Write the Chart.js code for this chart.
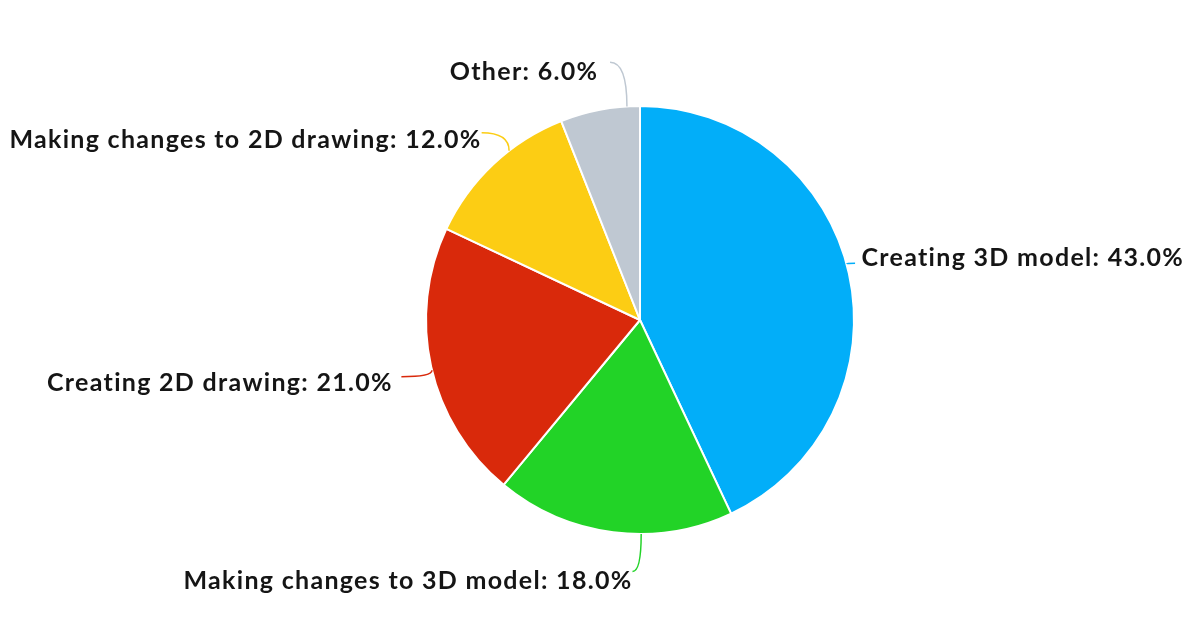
<!DOCTYPE html>
<html>
<head>
<meta charset="utf-8">
<script src="https://cdn.jsdelivr.net/npm/chart.js@4/dist/chart.umd.min.js"></script>
<style>
  html, body { margin: 0; padding: 0; background: #fff; }
  #wrap { width: 1200px; height: 630px; position: relative; }
</style>
</head>
<body>
<div id="wrap"><canvas id="c" width="1200" height="630"></canvas></div>
<script>
// ---- data ----
const categories = [
  "Creating 3D model",
  "Making changes to 3D model",
  "Creating 2D drawing",
  "Making changes to 2D drawing",
  "Other"
];
const shares = [43.0, 18.0, 21.0, 12.0, 6.0];
const sliceColors = ["#02AEF9", "#22D327", "#D9290B", "#FCCD14", "#BFC8D2"];

// ---- label layout (styling, not data) ----
// where the connector touches the slice: fraction of the slice's angular span
const touchFraction = [0.483, 0.384, 0.487, 0.627, 0.838];
// label anchor relative to pie centre, in units of the outer radius
const labelDX = [1.035, -0.035, -1.155, -0.74, -0.195];
const labelDY = [-0.29, 1.22, 0.295, -0.84, -1.16];
const labelAlign = ["left", "right", "right", "right", "right"];
// connector end relative to pie centre, in units of the outer radius
const connDX = [1.005, -0.035, -1.115, -0.74, -0.14];
const connDY = [-0.265, 1.175, 0.265, -0.875, -1.205];

const labelPlugin = {
  id: 'pieLabels',
  afterDatasetsDraw(chart) {
    const ctx = chart.ctx;
    const meta = chart.getDatasetMeta(0);
    ctx.save();
    ctx.font = 'bold 25px Lato, "Noto Sans", sans-serif';
    ctx.letterSpacing = '1.3px';
    ctx.textBaseline = 'middle';
    meta.data.forEach((arc, i) => {
      const p = arc.getProps(['x', 'y', 'startAngle', 'endAngle', 'outerRadius'], true);
      const r = p.outerRadius;
      const a = p.startAngle + (p.endAngle - p.startAngle) * touchFraction[i];
      const tx = p.x + Math.cos(a) * r;
      const ty = p.y + Math.sin(a) * r;
      const ex = p.x + connDX[i] * r;
      const ey = p.y + connDY[i] * r;
      ctx.strokeStyle = sliceColors[i];
      ctx.lineWidth = 1.5;
      ctx.beginPath();
      ctx.moveTo(ex, ey);
      ctx.quadraticCurveTo(tx, ey, tx, ty);
      ctx.stroke();
      const lx = p.x + labelDX[i] * r;
      const ly = p.y + labelDY[i] * r;
      ctx.fillStyle = '#151515';
      ctx.textAlign = labelAlign[i];
      ctx.fillText(categories[i] + ': ' + shares[i].toFixed(1) + '%', lx, ly);
    });
    ctx.restore();
  }
};

new Chart(document.getElementById('c'), {
  type: 'pie',
  data: {
    labels: categories,
    datasets: [{
      data: shares,
      backgroundColor: sliceColors,
      borderColor: '#ffffff',
      borderWidth: 2
    }]
  },
  options: {
    responsive: false,
    animation: false,
    layout: { padding: { top: 105, bottom: 95, left: 200, right: 120 } },
    plugins: {
      legend: { display: false },
      tooltip: { enabled: false }
    }
  },
  plugins: [labelPlugin]
});
</script>
</body>
</html>
